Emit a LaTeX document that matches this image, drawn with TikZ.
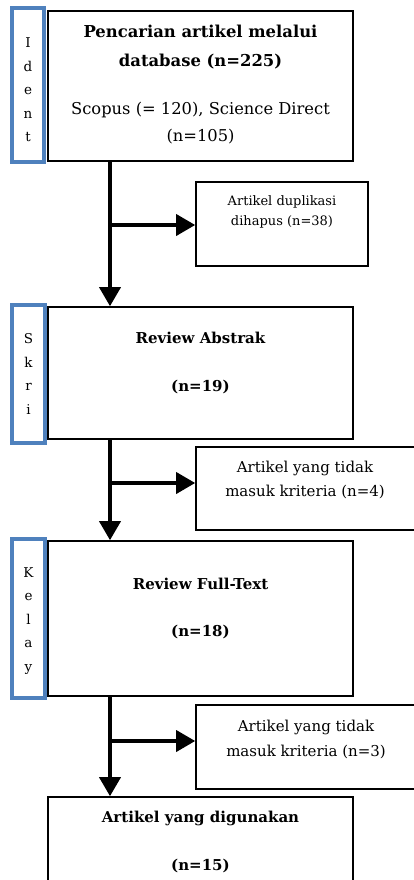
\documentclass[tikz,border=0pt]{standalone}
\usepackage{fontspec}
\setmainfont{DejaVu Serif}
\usetikzlibrary{arrows.meta}
\definecolor{lblue}{HTML}{4F81BD}
\begin{document}
\begin{tikzpicture}[x=1pt,y=-1pt,
  box/.style={draw=black,line width=1.6pt,inner sep=0pt,fill=white},
  lab/.style={draw=lblue,line width=3.5pt,inner sep=0pt},
  flow/.style={line width=3.6pt,-{Triangle[length=19pt,width=21pt]}},
  mt/.style={font=\fontsize{15}{29}\selectfont\bfseries,align=center,inner sep=0pt},
  st/.style={font=\fontsize{15}{24.5}\selectfont,align=center,inner sep=0pt},
  let/.style={font=\fontsize{13.5}{23.5}\selectfont,align=center,inner sep=0pt}]
\useasboundingbox (0,0) rectangle (414,880);
\clip (0,0) rectangle (414,880);
% main boxes
\node[box,minimum width=305pt,minimum height=150pt] (b1) at (200.5,86) {};
\node[box,minimum width=305pt,minimum height=132pt] (b2) at (200.5,373) {};
\node[box,minimum width=305pt,minimum height=155pt] (b3) at (200.5,618.5) {};
\node[box,minimum width=305pt,minimum height=120pt] (b4) at (200.5,857) {};
% side boxes
\node[box,minimum width=172pt,minimum height=84pt] (s1) at (282,224) {};
\node[box,minimum width=240pt,minimum height=83pt] (s2) at (316,488.5) {};
\node[box,minimum width=240pt,minimum height=84pt] (s3) at (316,747) {};
% label boxes
\node[lab,minimum width=32pt,minimum height=154pt] (l1) at (28,85) {};
\node[lab,minimum width=33pt,minimum height=138pt] (l2) at (28.5,374) {};
\node[lab,minimum width=33pt,minimum height=159pt] (l3) at (28.5,618.5) {};
% texts
\node[mt,font=\fontsize{16.4}{29}\selectfont\bfseries] (t1) at (200.5,47.5) {Pencarian artikel melalui\\database (n=225)};
\node[font=\fontsize{16.3}{27}\selectfont,align=center,inner sep=0pt] (t1b) at (200.5,123.5) {Scopus (= 120), Science Direct\\(n=105)};
\node[st,font=\fontsize{13}{20}\selectfont] (ts1) at (282,212) {Artikel duplikasi\\dihapus (n=38)};
\node[mt] (t2) at (200.5,338) {Review Abstrak};
\node[mt] (t2b) at (200.5,387) {(n=19)};
\node[st] (ts2) at (305,480) {Artikel yang tidak\\masuk kriteria (n=4)};
\node[st] (ts3) at (306,739.5) {Artikel yang tidak\\masuk kriteria (n=3)};
\node[mt] (t3) at (200.5,584) {Review Full-Text};
\node[mt] (t3b) at (200.5,632) {(n=18)};
\node[mt] (t4) at (200.5,818) {Artikel yang digunakan};
\node[mt] (t4b) at (200.5,866) {(n=15)};
\node[let] (k1) at (28,90) {I\\d\\e\\n\\t};
\node[let] (k2) at (28.5,374) {S\\k\\r\\i};
\node[let] (k3) at (28.5,621) {K\\e\\l\\a\\y};
% connectors
\coordinate (x) at (110,0);
\coordinate (j1) at (110,225);
\coordinate (j2) at (110,483);
\coordinate (j3) at (110,741);
\draw[flow] (b1.south -| x) -- (b2.north -| x);
\draw[flow] (b2.south -| x) -- (b3.north -| x);
\draw[flow] (b3.south -| x) -- (b4.north -| x);
\draw[flow] (j1) -- (s1.west |- j1);
\draw[flow] (j2) -- (s2.west |- j2);
\draw[flow] (j3) -- (s3.west |- j3);
\end{tikzpicture}
\end{document}
